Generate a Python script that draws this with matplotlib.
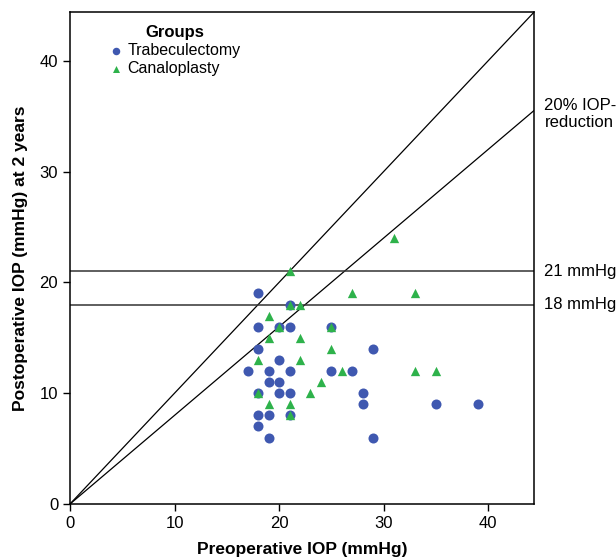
import matplotlib.pyplot as plt

plt.rcParams['font.family'] = ['Liberation Sans', 'DejaVu Sans']

# =========================
# data
# =========================
trab_pre = [18, 21, 18, 20, 21, 25, 18, 29, 20, 17, 19, 21, 25, 27, 19, 20,
            18, 20, 21, 28, 28, 35, 39, 18, 19, 21, 18, 19, 29]
trab_post = [19, 18, 16, 16, 16, 16, 14, 14, 13, 12, 12, 12, 12, 12, 11, 11,
             10, 10, 10, 10, 9, 9, 9, 8, 8, 8, 7, 6, 6]

canal_pre = [21, 31, 27, 33, 21, 22, 19, 20, 25, 19, 22, 25, 18, 22, 26, 33,
             35, 24, 18, 23, 19, 21, 21]
canal_post = [21, 24, 19, 19, 18, 18, 17, 16, 16, 15, 15, 14, 13, 13, 12, 12,
              12, 11, 10, 10, 9, 9, 8]

limit = 44.4
ref_levels = [21, 18]
ref_labels = ['21 mmHg', '18 mmHg']
reduction = 0.8

# -------- plot --------
fig = plt.figure(figsize=(6.16, 5.6), dpi=100)
ax = fig.add_axes([0.1136, 0.1, 0.7536, 0.8786])

ax.plot([0, limit], [0, limit], color='black', lw=0.9, zorder=1)
ax.plot([0, limit], [0, reduction * limit], color='black', lw=0.9, zorder=1)
for lev in ref_levels:
    ax.axhline(lev, color='#333333', lw=1.1, zorder=1)

ax.scatter(trab_pre, trab_post, s=52, marker='o', color='#3F58B0',
           linewidths=0, label='Trabeculectomy', zorder=3)
ax.scatter(canal_pre, canal_post, s=45, marker='^', color='#2EB24B',
           linewidths=0, label='Canaloplasty', zorder=4)

ax.set_xlim(0, limit)
ax.set_ylim(0, limit)
ax.set_xticks([0, 10, 20, 30, 40])
ax.set_yticks([0, 10, 20, 30, 40])
ax.tick_params(direction='out', length=5, width=1, labelsize=12)
for sp in ax.spines.values():
    sp.set_linewidth(1.1)

ax.set_xlabel('Preoperative IOP (mmHg)', fontsize=12.5, fontweight='bold', labelpad=8)
ax.set_ylabel('Postoperative IOP (mmHg) at 2 years', fontsize=12.5,
              fontweight='bold', labelpad=8)

# labels right of the plot
ax.text(1.022, 35.2, '20% IOP-\nreduction', transform=ax.get_yaxis_transform(),
        fontsize=12, va='center', ha='left', linespacing=1.15, clip_on=False)
for lev, lab in zip(ref_levels, ref_labels):
    ax.text(1.022, lev, lab, transform=ax.get_yaxis_transform(),
            fontsize=12, va='center', ha='left', clip_on=False)

leg = ax.legend(title='Groups', loc='upper left', bbox_to_anchor=(0.055, 1.0),
                frameon=False, fontsize=11.5, handletextpad=0.2, borderpad=0.3,
                labelspacing=0.2, markerscale=0.75, handlelength=1.0)
leg.get_title().set_fontweight('bold')
leg.get_title().set_fontsize(12)

plt.savefig('out.png', dpi=100)
plt.close()
